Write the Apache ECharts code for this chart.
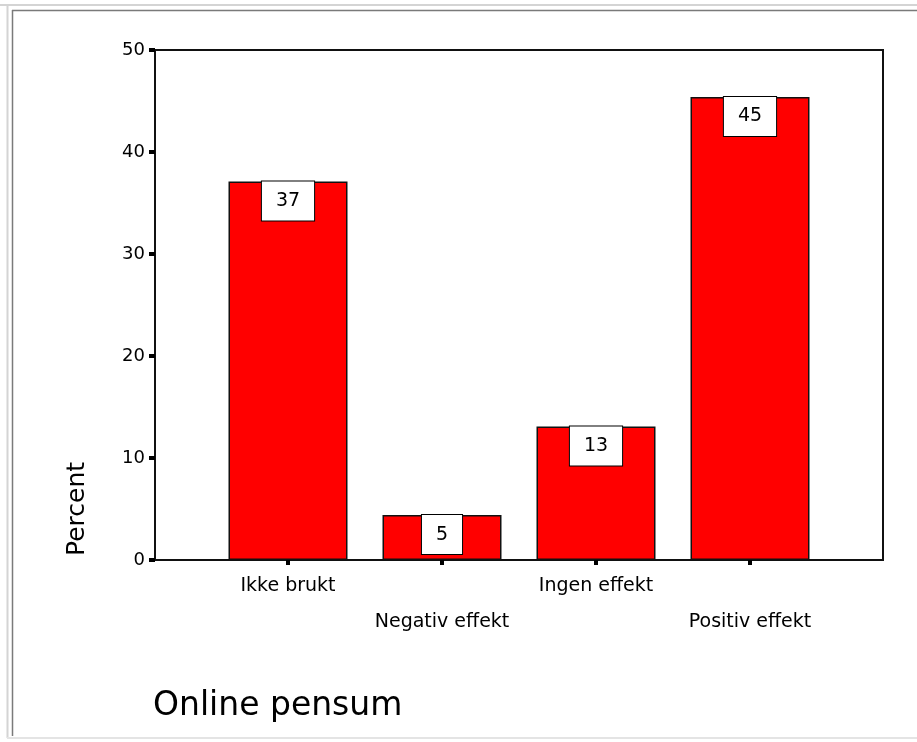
<!DOCTYPE html>
<html>
<head>
<meta charset="utf-8">
<script src="https://cdn.jsdelivr.net/npm/echarts@6/dist/echarts.min.js"></script>
<style>
  html, body { margin: 0; padding: 0; background: #fff; }
  #chart { width: 917px; height: 742px; }
</style>
</head>
<body>
<div id="chart"></div>
<script>
const categories = ['Ikke brukt', 'Negativ effekt', 'Ingen effekt', 'Positiv effekt'];
const percentValues = [37.1, 4.4, 13.1, 45.4];
const barLabels = ['37', '5', '13', '45'];
const yMin = 0;
const yMax = 50;
const yInterval = 10;
const chartTitle = 'Online pensum';
const yAxisTitle = 'Percent';

const FONT = 'DejaVu Sans';
const chart = echarts.init(document.getElementById('chart'), null, { renderer: 'canvas' });

const option = {
  backgroundColor: '#fff',
  animation: false,
  title: {
    text: chartTitle,
    left: 153,
    top: 690,
    padding: 0,
    textStyle: { fontFamily: FONT, fontSize: 33, fontWeight: 'normal', color: '#000' }
  },
  grid: [
    { left: 155, right: 34, top: 50, bottom: 182, show: true, borderColor: '#111', borderWidth: 2, backgroundColor: '#fff' },
    { left: 211, right: 90, top: 50, bottom: 182 }
  ],
  xAxis: [
    { type: 'value', gridIndex: 0, show: false, min: 0, max: 1 },
    {
      type: 'category', gridIndex: 1, data: categories,
      axisLine: { show: false },
      axisTick: { show: true, alignWithLabel: true, interval: 0, length: 5, lineStyle: { color: '#000', width: 4 } },
      axisLabel: {
        interval: 0, margin: 8, color: '#000', fontFamily: FONT, fontSize: 19, lineHeight: 36,
        formatter: function (v, i) { return i % 2 === 1 ? '\n' + v : v; }
      }
    }
  ],
  yAxis: [
    {
      type: 'value', gridIndex: 0, min: yMin, max: yMax, interval: yInterval,
      axisLine: { show: true, lineStyle: { color: '#111', width: 2 } },
      axisTick: { show: true, length: 6, lineStyle: { color: '#000', width: 4 } },
      axisLabel: { margin: 10, color: '#000', fontFamily: FONT, fontSize: 18, verticalAlign: 'middle', padding: [0, 0, 4, 0] },
      splitLine: { show: false }
    },
    { type: 'value', gridIndex: 1, min: yMin, max: yMax, interval: yInterval, show: false }
  ],
  graphic: [
    { type: 'line', shape: { x1: 0, y1: 5, x2: 917, y2: 5 }, style: { stroke: '#d4d4d4', lineWidth: 2 }, silent: true },
    { type: 'line', shape: { x1: 7.5, y1: 4, x2: 7.5, y2: 738 }, style: { stroke: '#d4d4d4', lineWidth: 2 }, silent: true },
    { type: 'line', shape: { x1: 7, y1: 738, x2: 917, y2: 738 }, style: { stroke: '#e4e4e4', lineWidth: 2 }, silent: true },
    { type: 'line', shape: { x1: 12, y1: 10.5, x2: 917, y2: 10.5 }, style: { stroke: '#7a7a7a', lineWidth: 1.5 }, silent: true },
    { type: 'line', shape: { x1: 12.5, y1: 10, x2: 12.5, y2: 736 }, style: { stroke: '#7a7a7a', lineWidth: 1.5 }, silent: true },
    {
      type: 'text', x: 77, y: 509, rotation: Math.PI / 2,
      style: { text: yAxisTitle, fill: '#000', font: '25px "' + FONT + '"', align: 'center', verticalAlign: 'middle' },
      silent: true
    }
  ],
  series: [
    {
      type: 'bar', xAxisIndex: 1, yAxisIndex: 1,
      data: percentValues,
      barWidth: 119,
      itemStyle: { color: '#ff0000', borderColor: '#111', borderWidth: 1.5 },
      label: {
        show: true, position: 'insideTop', distance: 0,
        formatter: function (p) { return barLabels[p.dataIndex]; },
        color: '#000', fontFamily: FONT, fontSize: 19, lineHeight: 19,
        backgroundColor: '#fff', borderColor: '#000', borderWidth: 1, padding: [10, 14]
      }
    }
  ]
};
chart.setOption(option);
</script>
</body>
</html>
